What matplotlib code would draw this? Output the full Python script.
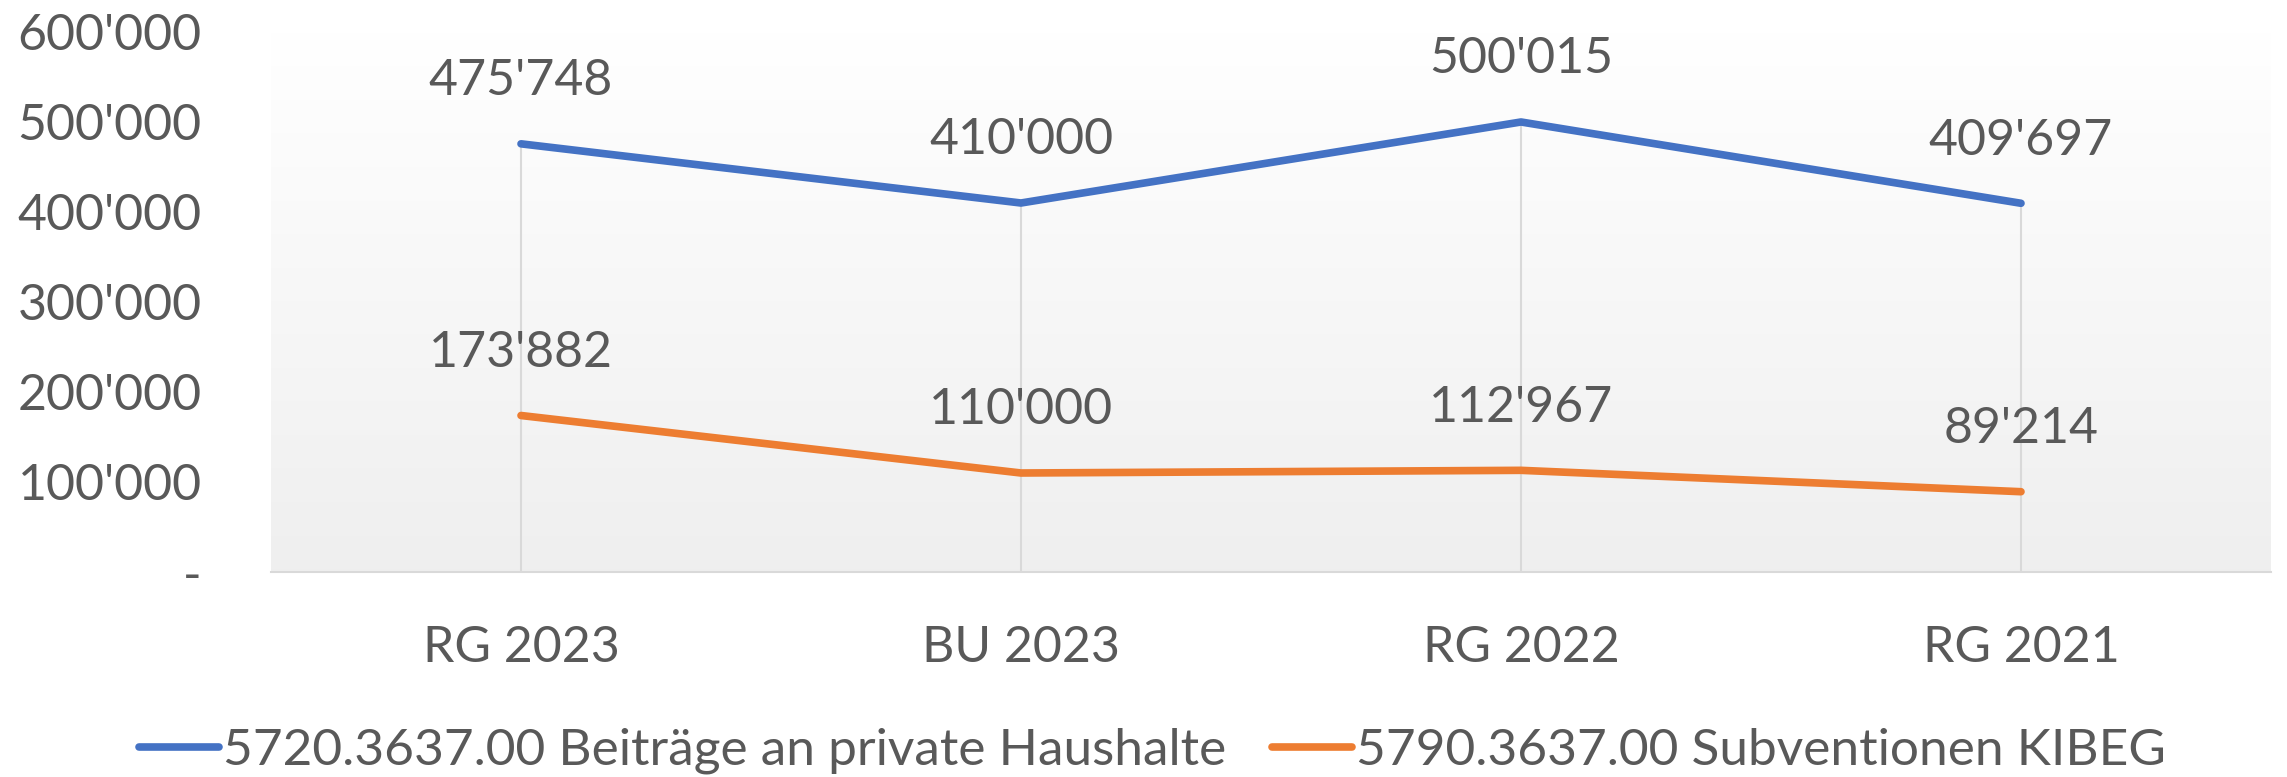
import matplotlib
matplotlib.use("Agg")
import matplotlib.pyplot as plt
import numpy as np
from matplotlib.ticker import FuncFormatter
from matplotlib.lines import Line2D

categories = ["RG 2023", "BU 2023", "RG 2022", "RG 2021"]
beitraege = [475748, 410000, 500015, 409697]
subventionen = [173882, 110000, 112967, 89214]
series_names = ["5720.3637.00 Beiträge an private Haushalte",
                "5790.3637.00 Subventionen KIBEG"]
yticks = [0, 100000, 200000, 300000, 400000, 500000, 600000]

TEXT = "#595959"
BLUE = "#4472C4"
ORANGE = "#ED7D31"
FONT = "Lato"
FS = 36
LW = 5.5

plt.rcParams['font.family'] = [FONT, 'DejaVu Sans']

fig = plt.figure(figsize=(22.87, 7.77), dpi=100)
ax = fig.add_axes([271/2287, 1-572/777, 2000/2287, 540/777])

x = np.arange(len(categories))
ax.set_xlim(-0.5, len(categories) - 0.5)
ax.set_ylim(0, 600000)

# gradient background
grad = np.linspace(1.0, 0.0, 256).reshape(-1, 1)
top = np.array([1.0, 1.0, 1.0])
bot = np.array([0.937, 0.937, 0.937])
img = top * grad[..., None] + bot * (1 - grad[..., None])
ax.imshow(img, extent=[-0.5, len(categories) - 0.5, 0, 600000],
          aspect='auto', zorder=0, origin='upper')

# drop lines
maxv = [max(a, b) for a, b in zip(beitraege, subventionen)]
ax.vlines(x, 0, maxv, color="#d9d9d9", linewidth=1.5, zorder=1)

ax.plot(x, beitraege, color=BLUE, linewidth=LW, solid_capstyle='round',
        solid_joinstyle='round', zorder=3, label=series_names[0])
ax.plot(x, subventionen, color=ORANGE, linewidth=LW, solid_capstyle='round',
        solid_joinstyle='round', zorder=3, label=series_names[1])

def fmt(v, pos=None):
    if v == 0:
        return "-"
    return f"{int(round(v)):,}".replace(",", "'")

for xs, ys in [(x, beitraege), (x, subventionen)]:
    for xi, yi in zip(xs, ys):
        ax.annotate(fmt(yi), (xi, yi), xytext=(0, 45), textcoords='offset points',
                    ha='center', va='center', fontsize=FS, color=TEXT, zorder=4)

ax.set_yticks(yticks)
ax.yaxis.set_major_formatter(FuncFormatter(fmt))
ax.set_xticks(x)
ax.set_xticklabels(categories)
ax.tick_params(axis='y', length=0, pad=50, labelsize=FS, labelcolor=TEXT)
ax.tick_params(axis='x', length=0, pad=38, labelsize=FS, labelcolor=TEXT)

for s in ['top', 'right', 'left']:
    ax.spines[s].set_visible(False)
ax.spines['bottom'].set_color("#d9d9d9")
ax.spines['bottom'].set_linewidth(1.5)
ax.spines['bottom'].set_zorder(2)

handles = [Line2D([0], [0], color=BLUE, linewidth=LW, solid_capstyle='round'),
           Line2D([0], [0], color=ORANGE, linewidth=LW, solid_capstyle='round')]
leg = fig.legend(handles, series_names, loc='center', ncol=2,
                 bbox_to_anchor=(0.504, 1 - 751/777), frameon=False,
                 prop={'size': 37}, handlelength=1.55, handletextpad=0.08,
                 columnspacing=0.9, borderaxespad=0, borderpad=0)
for t in leg.get_texts():
    t.set_color(TEXT)

fig.savefig("out.png", dpi=100, facecolor="white")
